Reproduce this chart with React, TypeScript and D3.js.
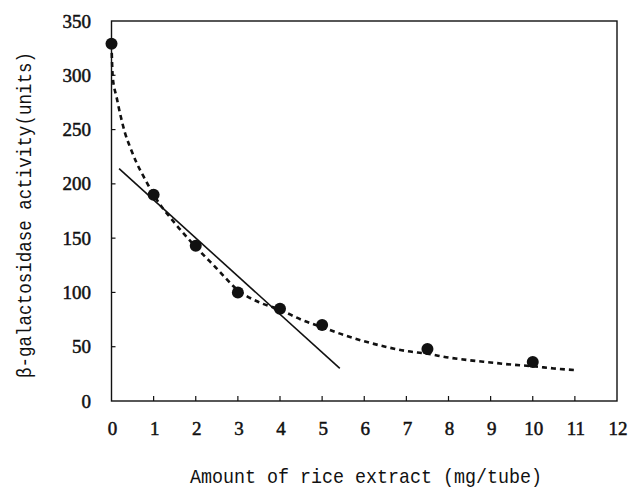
import React, { useEffect, useRef } from 'react';
import * as d3 from 'd3';

// measured points
const doseX = [0, 1, 2, 3, 4, 5, 7.5, 10];
const activityY = [329, 190, 143, 100, 85, 70, 48, 36];

// hand-drawn dashed fit curve
const curveX = [0, 0.03, 0.12, 0.22, 0.32, 0.44, 0.6, 0.8, 1, 1.5, 2, 2.5, 3, 3.5, 4, 4.5, 5, 5.5, 6, 6.5, 7, 7.5, 8, 8.5, 9, 9.5, 10, 10.5, 11];
const curveY = [329, 298, 280, 262, 247, 234, 219, 204, 190, 164, 142, 122, 102, 91, 84, 75, 68, 61, 55, 50, 46, 43.5, 40, 37.5, 35.5, 33.5, 32, 30, 28.5];

// straight regression line (start / end)
const lineX = [0.18, 5.42];
const lineY = [214, 30];

const xTicks = [0, 1, 2, 3, 4, 5, 6, 7, 8, 9, 10, 11, 12];
const yTicks = [0, 50, 100, 150, 200, 250, 300, 350];

const xTitle = 'Amount of rice extract (mg/tube)';
const yTitle = 'β-galactosidase activity(units)';

const W = 642;
const H = 491;

export default function App() {
  const ref = useRef<SVGSVGElement>(null);

  useEffect(() => {
    const svg = d3.select(ref.current);
    svg.selectAll('*').remove();

    const x = d3.scaleLinear().domain([0, 12]).range([111.5, 617]);
    const y = d3.scaleLinear().domain([0, 350]).range([401, 21]);
    const ink = '#111';
    const numFont = "'Liberation Serif', 'DejaVu Serif', serif";
    const monoFont = "'Liberation Mono', 'DejaVu Sans Mono', monospace";

    svg.append('rect').attr('width', W).attr('height', H).attr('fill', '#fff');

    // frame
    svg.append('rect')
      .attr('x', x(0)).attr('y', y(350))
      .attr('width', x(12) - x(0)).attr('height', y(0) - y(350))
      .attr('fill', 'none').attr('stroke', ink).attr('stroke-width', 1.4);

    // inward ticks
    svg.append('g').selectAll('line').data(xTicks.slice(1, -1)).join('line')
      .attr('x1', d => x(d)).attr('x2', d => x(d))
      .attr('y1', y(0)).attr('y2', y(0) - 5)
      .attr('stroke', ink).attr('stroke-width', 1.2);
    svg.append('g').selectAll('line').data(yTicks.slice(1, -1)).join('line')
      .attr('x1', x(0)).attr('x2', x(0) + 4)
      .attr('y1', d => y(d)).attr('y2', d => y(d))
      .attr('stroke', ink).attr('stroke-width', 1.2);

    // tick labels (normal weight thickened a little)
    svg.append('g').selectAll('text').data(xTicks).join('text')
      .attr('x', d => x(d) + 1).attr('y', 435)
      .attr('text-anchor', 'middle')
      .style('font-family', numFont)
      .attr('font-size', 19).attr('fill', ink)
      .attr('stroke', ink).attr('stroke-width', 0.5)
      .text(d => d);
    svg.append('g').selectAll('text').data(yTicks).join('text')
      .attr('x', 91).attr('y', d => y(d) + 6.5)
      .attr('text-anchor', 'end')
      .style('font-family', numFont)
      .attr('font-size', 19).attr('fill', ink)
      .attr('stroke', ink).attr('stroke-width', 0.5)
      .text(d => d);

    // axis titles
    svg.append('text')
      .attr('x', 190).attr('y', 483)
      .style('font-family', monoFont)
      .attr('font-size', 21).attr('fill', ink)
      .attr('textLength', 352).attr('lengthAdjust', 'spacingAndGlyphs')
      .text(xTitle);
    svg.append('text')
      .attr('transform', 'translate(31,378) rotate(-90)')
      .style('font-family', monoFont)
      .attr('font-size', 20).attr('fill', ink)
      .attr('textLength', 326).attr('lengthAdjust', 'spacingAndGlyphs')
      .text(yTitle);

    // dashed fit curve
    const curvePts: [number, number][] = curveX.map((d, i) => [d, curveY[i]]);
    const curve = d3.line<[number, number]>()
      .x(d => x(d[0])).y(d => y(d[1]))
      .curve(d3.curveMonotoneX);
    svg.append('path')
      .attr('d', curve(curvePts))
      .attr('fill', 'none').attr('stroke', ink)
      .attr('stroke-width', 2.6).attr('stroke-dasharray', '5,4');

    // straight line
    const linePts: [number, number][] = lineX.map((d, i) => [d, lineY[i]]);
    svg.append('path')
      .attr('d', d3.line<[number, number]>().x(d => x(d[0])).y(d => y(d[1]))(linePts))
      .attr('fill', 'none').attr('stroke', ink).attr('stroke-width', 1.6);

    // points
    svg.append('g').selectAll('circle').data(doseX).join('circle')
      .attr('cx', d => x(d)).attr('cy', (d, i) => y(activityY[i]))
      .attr('r', 6).attr('fill', ink);
  }, []);

  return (
    <svg ref={ref} width={W} height={H} style={{ position: 'absolute', left: 0, top: 0 }} />
  );
}
